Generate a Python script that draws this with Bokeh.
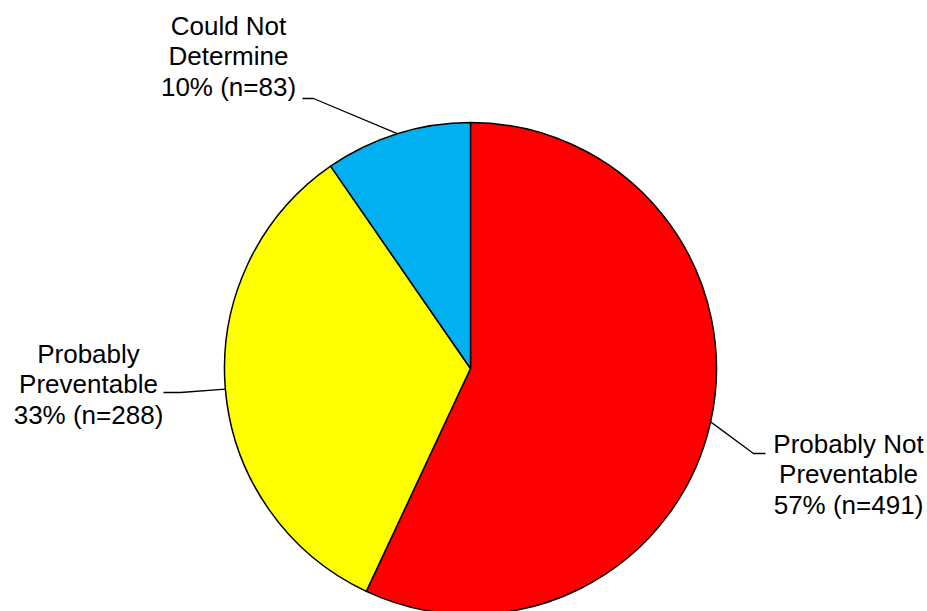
import numpy as np
from bokeh.plotting import figure
from bokeh.models import Range1d
from bokeh.core.properties import value
from bokeh.embed import file_html
from bokeh.resources import INLINE

# Slice data (clockwise from 12 o'clock)
categories = ["Probably Not\nPreventable", "Probably\nPreventable", "Could Not\nDetermine"]
counts = [491, 288, 83]
colors = ["#FF0000", "#FFFF00", "#00B0F0"]

# Canvas and pie geometry (pixel units, y measured from top)
W, H = 927, 611
CX, CY, R = 470, 368, 246
FONT = "Liberation Sans"
FONT_SIZE = "26px"
LINE_STEP = 30.8

# Label placement: text centre x, first line centre y, elbow point, end of short horizontal tick
label_layout = [
    dict(x=848, y=443, elbow=(753, 453), tick=(765, 453)),
    dict(x=88, y=353, elbow=(180, 392), tick=(163, 392)),
    dict(x=228, y=25, elbow=(313, 98), tick=(302, 98)),
]


def fy(y):
    """Convert a top-down pixel y into the figure's upward data y."""
    return H - y


p = figure(width=W, height=H, x_range=Range1d(0, W), y_range=Range1d(0, H),
           output_backend="svg", toolbar_location=None, min_border=0,
           background_fill_color="white", border_fill_color="white",
           outline_line_color=None)
p.axis.visible = False
p.grid.visible = False

total = sum(counts)
fractions = np.array(counts) / total
start = np.pi / 2
starts, ends = [], []
for f in fractions:
    end = start - f * 2 * np.pi
    starts.append(start)
    ends.append(end)
    start = end

p.wedge(x=CX, y=fy(CY), radius=R, start_angle=ends, end_angle=starts,
        fill_color=colors, line_color="black", line_width=1.5)

for cat, n, s, e, lay in zip(categories, counts, starts, ends, label_layout):
    mid = (s + e) / 2
    ex = CX + R * np.cos(mid)
    ey = fy(CY) + R * np.sin(mid)
    bx, by = lay["elbow"]
    tx, ty = lay["tick"]
    p.line(x=[ex, bx, tx], y=[ey, fy(by), fy(ty)], line_color="black", line_width=1.3)

    pct = round(100 * n / total)
    lines = cat.split("\n") + [f"{pct}% (n={n})"]
    ys = [fy(lay["y"] + i * LINE_STEP) for i in range(len(lines))]
    p.text(x=[lay["x"]] * len(lines), y=ys, text=lines,
           text_font=value(FONT), text_font_size=FONT_SIZE, text_color="black",
           text_align="center", text_baseline="middle")

open("out.html", "w").write(file_html(p, INLINE))
